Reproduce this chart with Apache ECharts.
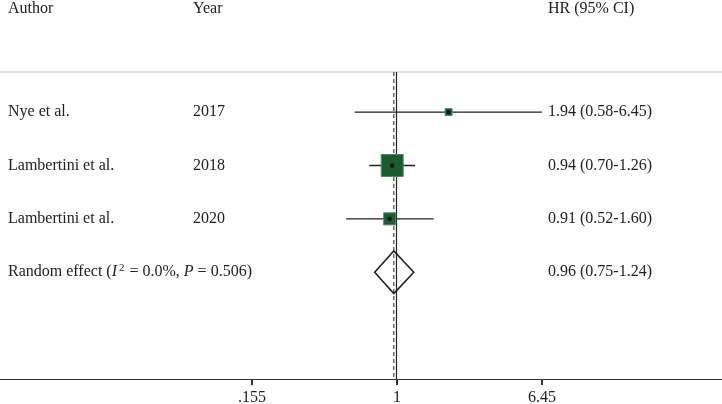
<!DOCTYPE html>
<html>
<head>
<meta charset="utf-8">
<script src="https://cdn.jsdelivr.net/npm/echarts@6/dist/echarts.min.js"></script>
<style>html,body{margin:0;padding:0;background:#fff}#c{width:722px;height:404px}</style>
</head>
<body>
<div id="c"></div>
<script>
// ---- data ----
const authors = ['Nye et al.', 'Lambertini et al.', 'Lambertini et al.'];
const years = ['2017', '2018', '2020'];
const hr = [1.94, 0.94, 0.91];
const lower = [0.58, 0.70, 0.52];
const upper = [6.45, 1.26, 1.60];
const weights = [7.2, 71.5, 21.3]; // approx. % weights (read from square areas)
const hrText = ['1.94 (0.58-6.45)', '0.94 (0.70-1.26)', '0.91 (0.52-1.60)'];
const pooledHR = [0.96];
const pooledLower = [0.75];
const pooledUpper = [1.24];
const pooledText = ['0.96 (0.75-1.24)'];
const headers = ['Author', 'Year', 'HR (95% CI)'];
const xTicks = [0.155, 1, 6.45];
const xTickLabels = ['.155', '1', '6.45'];

const FONT = '"Liberation Serif", "Times New Roman", serif';
const INK = '#222';
const colX = [8, 193, 548];
const topRow = 0.25, axisRow = 6;

const studyData = hr.map((v, i) => [v, i + 1, lower[i], upper[i], weights[i]]);
const pooledData = [[pooledHR[0], hr.length + 1, pooledLower[0], pooledUpper[0]]];
const tickData = xTicks.map(t => [t, axisRow]);

function txt(x, y, s, rich) {
  return {type: 'text', style: {x: x, y: y, text: s, font: '16px ' + FONT, fill: INK,
    verticalAlign: 'middle', align: 'left', rich: rich}};
}

const chart = echarts.init(document.getElementById('c'), null, {renderer: 'canvas'});
chart.setOption({
  animation: false,
  grid: {left: 0, right: 0, top: 0, bottom: 25, outerBoundsMode: 'none'},
  xAxis: {
    type: 'log', logBase: Math.E,
    min: Math.exp(-5.103), max: Math.exp(4.177),
    axisLine: {show: true, onZero: false, lineStyle: {color: '#333', width: 1}},
    axisTick: {show: true, length: 6, customValues: xTicks, lineStyle: {color: '#333', width: 2}},
    axisLabel: {show: true, customValues: xTicks, margin: 11, fontSize: 16, fontFamily: FONT, color: INK,
      formatter: v => { const k = xTicks.findIndex(t => Math.abs(t - v) < 1e-6); return k >= 0 ? xTickLabels[k] : ''; }},
    splitLine: {show: false}
  },
  yAxis: {type: 'value', inverse: true, min: -1.1, max: 6, show: false},
  series: [
    {
      // frame: header, separator, reference lines
      type: 'custom', clip: false, silent: true,
      data: [[1, 0]],
      renderItem: function (params, api) {
        const hy = api.coord([1, -0.94])[1];
        const sepY = api.coord([1, topRow])[1];
        const p1a = api.coord([1, topRow]), p1b = api.coord([1, axisRow]);
        const pda = api.coord([pooledHR[0], topRow]), pdb = api.coord([pooledHR[0], axisRow]);
        return {type: 'group', children: [
          {type: 'line', shape: {x1: 0, y1: sepY, x2: 722, y2: sepY}, style: {stroke: '#dcdcdc', lineWidth: 1.5}},
          {type: 'line', shape: {x1: Math.round(p1a[0]) - 0.5, y1: p1a[1], x2: Math.round(p1a[0]) - 0.5, y2: p1b[1]}, style: {stroke: INK, lineWidth: 1.2}},
          {type: 'line', shape: {x1: pda[0], y1: pda[1], x2: pdb[0], y2: pdb[1]}, style: {stroke: '#333', lineWidth: 1.1, lineDash: [4, 3]}},
          txt(colX[0], hy, headers[0]),
          txt(colX[1], hy, headers[1]),
          txt(colX[2], hy, headers[2])
        ]};
      }
    },
    {
      // tick marks at the labelled values (overlay)
      type: 'custom', clip: false, silent: true, z: 10,
      data: tickData,
      encode: {x: 0, y: 1},
      renderItem: function (params, api) {
        const p = api.coord([api.value(0), api.value(1)]);
        return {type: 'rect', shape: {x: p[0] - 0.9, y: p[1], width: 1.8, height: 6},
          style: {fill: '#333'}};
      }
    },
    {
      type: 'custom', clip: false, silent: true,
      data: studyData,
      encode: {x: 0, y: 1},
      renderItem: function (params, api) {
        const i = params.dataIndex;
        const row = api.value(1);
        const c = api.coord([api.value(0), row]);
        const l = api.coord([api.value(2), row]);
        const u = api.coord([api.value(3), row]);
        const side = 2.6 * Math.sqrt(api.value(4));
        return {type: 'group', children: [
          {type: 'line', shape: {x1: l[0], y1: c[1], x2: u[0], y2: c[1]}, style: {stroke: INK, lineWidth: 1.3}},
          {type: 'rect', shape: {x: c[0] - side / 2, y: c[1] - side / 2, width: side, height: side},
            style: {fill: '#1c5a2f', stroke: '#4f8d5e', lineWidth: 1}},
          {type: 'circle', shape: {cx: c[0], cy: c[1], r: 2.2}, style: {fill: '#111'}},
          txt(colX[0], c[1], authors[i]),
          txt(colX[1], c[1], years[i]),
          txt(colX[2], c[1], hrText[i])
        ]};
      }
    },
    {
      type: 'custom', clip: false, silent: true,
      data: pooledData,
      encode: {x: 0, y: 1},
      renderItem: function (params, api) {
        const row = api.value(1);
        const c = api.coord([api.value(0), row]);
        const t = api.coord([api.value(0), row - 0.4]);
        const b = api.coord([api.value(0), row + 0.4]);
        const l = api.coord([api.value(2), row]);
        const u = api.coord([api.value(3), row]);
        return {type: 'group', children: [
          {type: 'polygon', shape: {points: [[l[0], c[1]], [t[0], t[1]], [u[0], c[1]], [b[0], b[1]]]},
            style: {fill: 'rgba(255,255,255,0)', stroke: INK, lineWidth: 1.6}},
          txt(colX[0], c[1], 'Random effect ({i|I}{sup|2} = 0.0%, {i|P} = 0.506)', {
            i: {fontStyle: 'italic', fontSize: 16, fontFamily: FONT, fill: INK, lineHeight: 20},
            sup: {fontSize: 11, fontFamily: FONT, fill: INK, verticalAlign: 'top', lineHeight: 20, padding: [0, 1, 0, 2]}
          }),
          txt(colX[2], c[1], pooledText[0])
        ]};
      }
    }
  ]
});
</script>
</body>
</html>
